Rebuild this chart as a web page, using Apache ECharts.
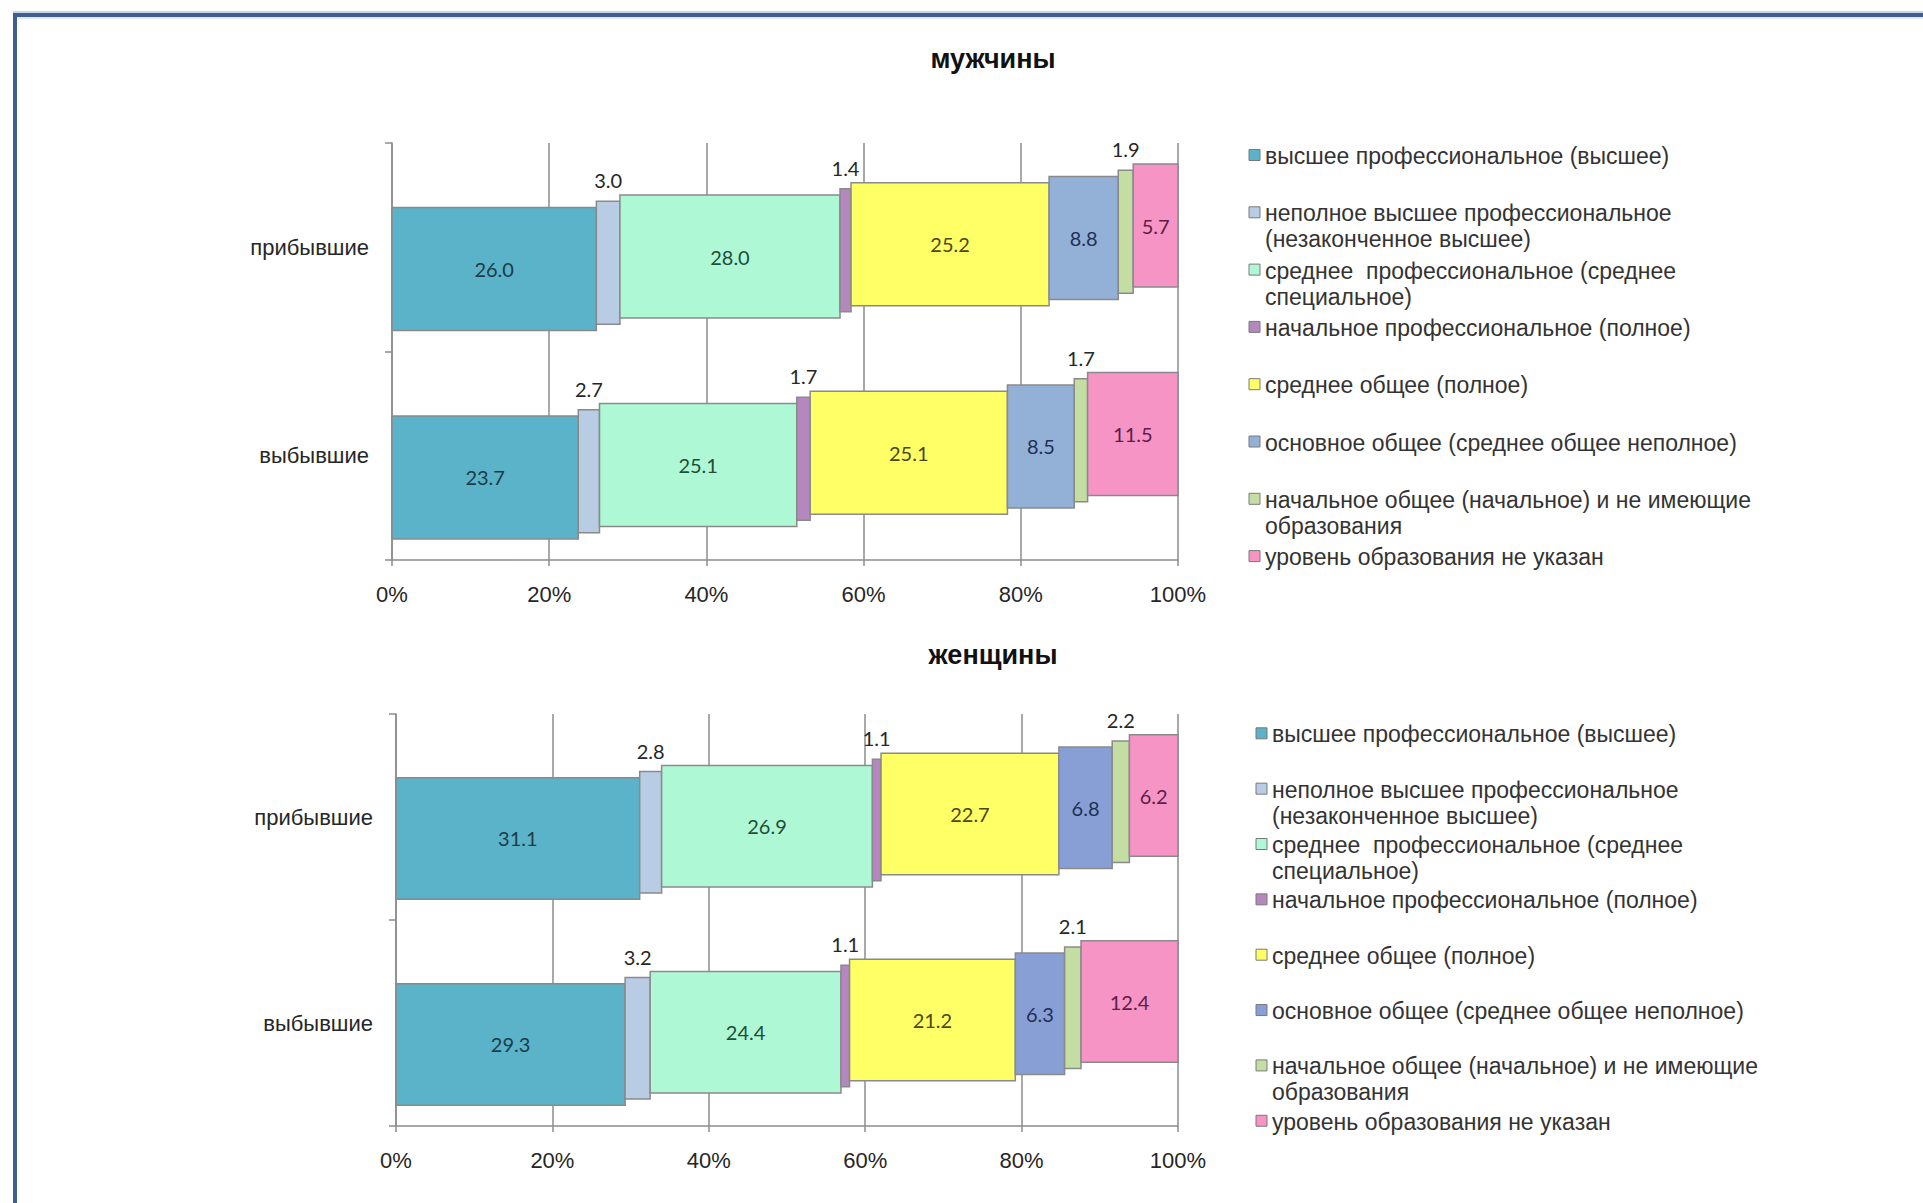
<!DOCTYPE html>
<html><head><meta charset="utf-8">
<script src="https://cdn.jsdelivr.net/npm/echarts@6/dist/echarts.min.js"></script>
<style>html,body{margin:0;padding:0;background:#fff;} #c{width:1923px;height:1203px;}</style>
</head><body><div id="c"></div>
<script>
// ---- data ----
const categories = ['прибывшие', 'выбывшие'];
const levels = [
  'высшее профессиональное (высшее)',
  'неполное высшее профессиональное\n(незаконченное высшее)',
  'среднее  профессиональное (среднее\nспециальное)',
  'начальное профессиональное (полное)',
  'среднее общее (полное)',
  'основное общее (среднее общее неполное)',
  'начальное общее (начальное) и не имеющие\nобразования',
  'уровень образования не указан'
];
const xTicks = [0, 20, 40, 60, 80, 100];
const chartTitles = ['мужчины', 'женщины'];
const menArrived    = [26.0, 3.0, 28.0, 1.4, 25.2, 8.8, 1.9, 5.7];
const menDeparted   = [23.7, 2.7, 25.1, 1.7, 25.1, 8.5, 1.7, 11.5];
const womenArrived  = [31.1, 2.8, 26.9, 1.1, 22.7, 6.8, 2.2, 6.2];
const womenDeparted = [29.3, 3.2, 24.4, 1.1, 21.2, 6.3, 2.1, 12.4];

// ---- styles ----
const colorsMen   = ['#5ab3c8', '#b8cce4', '#aef8d6', '#b488bf', '#ffff66', '#93b1d6', '#c3dda2', '#f794c6'];
const colorsWomen = ['#5ab3c8', '#b8cce4', '#aef8d6', '#b488bf', '#ffff66', '#889fd6', '#c3dda2', '#f794c6'];
const labelColors = ['#1d3c48', '#262626', '#1e4d38', '#262626', '#4a4712', '#1f2f55', '#262626', '#5b1e48'];
const gridColor = '#8c8c8c';

const charts = [
  {rows: [menArrived, menDeparted], colors: colorsMen, grid: {left: 392, top: 143, width: 786, height: 417},
   titleTop: 45, legend: {mx: 1249, tx: 1265, y0: 155, step: 57.3}},
  {rows: [womenArrived, womenDeparted], colors: colorsWomen, grid: {left: 396, top: 714, width: 782, height: 412},
   titleTop: 641, legend: {mx: 1256, tx: 1272, y0: 733.3, step: 55.35}}
];

function makeRender(k, n, colors) {
  return function (params, api) {
    const ci = api.value(1);
    const p0 = api.coord([api.value(0), ci]);
    const p1 = api.coord([api.value(2), ci]);
    const band = api.size([0, 1])[1];
    const h = band * 0.59;
    const step = band * 0.0298;
    const off = ((n - 1) / 2 - k) * step;
    const yTop = p0[1] - h / 2 + off;
    const x = p0[0], w = p1[0] - p0[0];
    const v = api.value(3);
    const small = v < 4;
    return {
      type: 'group',
      children: [
        {type: 'rect', shape: {x: x, y: yTop, width: w, height: h},
         style: {fill: colors[k], stroke: '#8a8a8a', lineWidth: 1.5}},
        {type: 'text', z2: 10, style: {text: v.toFixed(1), x: x + w / 2, y: small ? yTop - 21 : yTop + h / 2,
          align: 'center', verticalAlign: 'middle', fill: labelColors[k],
          fontSize: 20, fontFamily: 'Lato'}}
      ]
    };
  };
}

const option = {
  backgroundColor: '#fff',
  animation: false,
  title: [], grid: [], xAxis: [], yAxis: [], series: [], graphic: []
};

charts.forEach((c, gi) => {
  option.title.push({
    text: chartTitles[gi], left: 993, top: c.titleTop, textAlign: 'center', padding: 0,
    textStyle: {fontSize: 27, fontWeight: 'bold', fontFamily: 'Liberation Sans', color: '#111'}
  });
  option.grid.push(Object.assign({containLabel: false}, c.grid));
  option.xAxis.push({
    type: 'value', gridIndex: gi, min: xTicks[0], max: xTicks[xTicks.length - 1], interval: xTicks[1] - xTicks[0],
    axisLine: {show: true, lineStyle: {color: gridColor, width: 1.5}},
    axisTick: {show: true, length: 6, lineStyle: {color: gridColor, width: 1.5}},
    splitLine: {show: true, lineStyle: {color: gridColor, width: 1.5}},
    axisLabel: {formatter: '{value}%', fontSize: 22, fontFamily: 'Liberation Sans', color: '#262626', margin: 23}
  });
  option.yAxis.push({
    type: 'category', gridIndex: gi, data: categories, inverse: true,
    axisLine: {show: true, lineStyle: {color: gridColor, width: 1.5}},
    axisTick: {show: true, length: 7, lineStyle: {color: gridColor, width: 1.5}},
    splitLine: {show: false},
    axisLabel: {fontSize: 22, fontFamily: 'Liberation Sans', color: '#262626', margin: 23}
  });
  const n = levels.length;
  for (let k = 0; k < n; k++) {
    const data = c.rows.map((row, ci) => {
      const total = row.reduce((a, b) => a + b, 0);
      let before = 0;
      for (let j = 0; j < k; j++) before += row[j];
      const start = before / total * 100;
      const end = (before + row[k]) / total * 100;
      return [start, ci, end, row[k]];
    });
    option.series.push({
      type: 'custom', name: levels[k], xAxisIndex: gi, yAxisIndex: gi,
      renderItem: makeRender(k, n, c.colors), encode: {x: [0, 2], y: 1}, data: data, clip: false
    });
    // legend entries
    const ly = c.legend.y0 + k * c.legend.step;
    option.graphic.push({type: 'rect', shape: {x: c.legend.mx, y: ly - 5.5, width: 11, height: 11},
      style: {fill: c.colors[k], stroke: '#7a7a7a', lineWidth: 1}});
    option.graphic.push({type: 'text', x: c.legend.tx, y: ly - 12,
      style: {text: levels[k], fontSize: 23, lineHeight: 26, fontFamily: 'Liberation Sans', fill: '#333',
              align: 'left', verticalAlign: 'top'}});
  }
});

// frame
option.graphic.push({type: 'line', shape: {x1: 13, y1: 12, x2: 1923, y2: 12}, style: {stroke: '#b6c8e0', lineWidth: 1.5}});
option.graphic.push({type: 'line', shape: {x1: 13, y1: 15, x2: 1923, y2: 15}, style: {stroke: '#3f5d8e', lineWidth: 4}});
option.graphic.push({type: 'line', shape: {x1: 15, y1: 13, x2: 15, y2: 1203}, style: {stroke: '#3f5d8e', lineWidth: 4}});
option.graphic.push({type: 'line', shape: {x1: 18, y1: 18, x2: 1923, y2: 18}, style: {stroke: '#d6e2f0', lineWidth: 1.5}});

const chart = echarts.init(document.getElementById('c'), null, {renderer: 'svg'});
chart.setOption(option);
</script>
</body></html>
